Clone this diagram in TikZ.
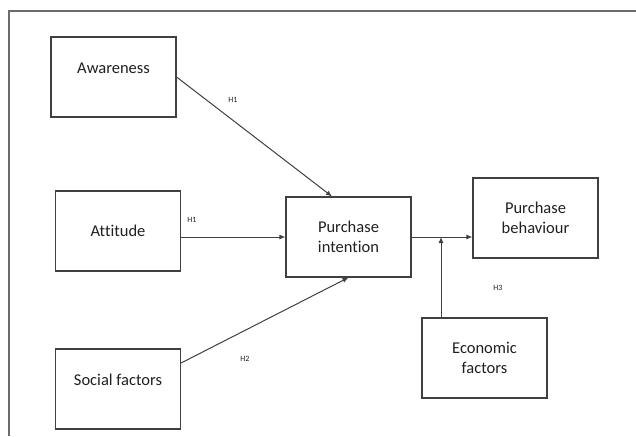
\documentclass[tikz,border=0pt]{standalone}
\usepackage{fontspec}
\setmainfont[Ligatures=NoCommon]{Carlito}
\usetikzlibrary{arrows.meta}
\definecolor{linec}{HTML}{404040}
\definecolor{textc}{HTML}{202020}
\tikzset{
  boxtext/.style={text=textc, font=\fontsize{16.5}{20}\selectfont},
  box/.style={draw=linec, line width=1.1pt, minimum width=125pt, minimum height=80pt, inner sep=0pt,
    boxtext, align=center},
  conn/.style={draw=linec, line width=1pt, -{Latex[length=6pt,width=5pt]}},
  hlab/.style={text=textc, font=\fontsize{8}{9}\selectfont, inner sep=0pt},
  frame/.style={draw=gray!85!black, line width=1.4pt}
}
\begin{document}
\begin{tikzpicture}[x=1pt,y=-1pt]
\useasboundingbox (0,0) rectangle (636,436);
\fill[white] (0,0) rectangle (636,436);
\draw[frame] (636,11) -- (9,11) -- (9,436);

\node[box, label={[boxtext, yshift=9pt]center:Awareness}] (aw) at (113.5,77) {};
\node[box] (at) at (118,231) {Attitude};
\node[box, label={[boxtext, yshift=9pt]center:Social factors}] (so) at (118,389) {};
\node[box] (pi) at (348.5,237) {Purchase\\intention};
\node[box] (pb) at (535.5,218) {Purchase\\behaviour};
\node[box] (ec) at (484.5,358) {Economic\\factors};

\draw[conn] (aw.east) -- ([xshift=-16.5pt]pi.north);
\draw[conn] (at.east |- pi.west) -- (pi.west);
\draw[conn] ([yshift=26pt]so.east) -- (pi.south);
\draw[conn] (pi.east) -- (pi.east -| pb.west);
\coordinate (join) at ([xshift=-43.5pt]ec.north |- pi.east);
\draw[conn] ([xshift=-43.5pt]ec.north) -- (join);

\node[hlab] (h1a) at (233,100) {H1};
\node[hlab] (h1b) at (192,220) {H1};
\node[hlab] (h2) at (245,359) {H2};
\node[hlab] (h3) at (498,288) {H3};
\end{tikzpicture}
\end{document}
